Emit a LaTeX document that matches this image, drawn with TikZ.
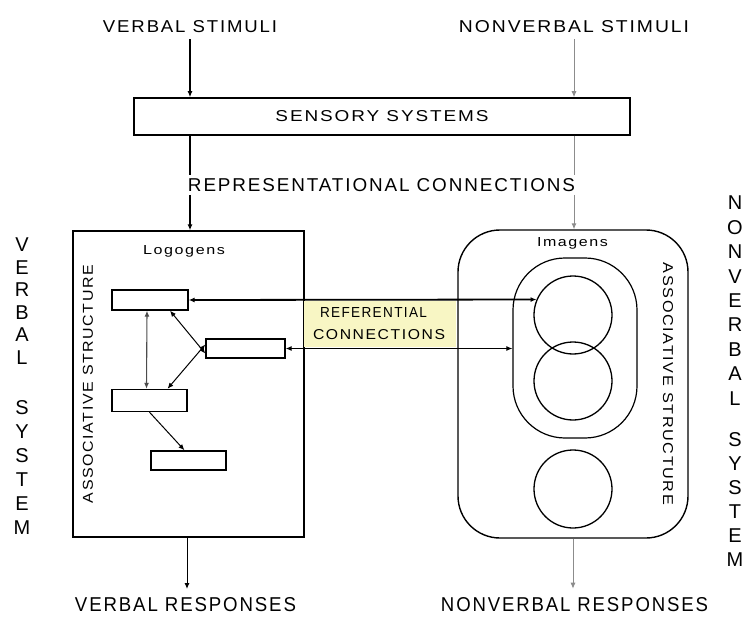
\documentclass[tikz,border=0pt]{standalone}
\usepackage{fontspec}
\setmainfont{Liberation Sans}
\newfontfamily\trk[LetterSpace=10]{Liberation Sans}
\usetikzlibrary{arrows.meta}
\newcommand{\fitt}[3]{\resizebox{#1pt}{#2pt}{\trk #3}}
\definecolor{refyellow}{RGB}{248,246,196}
\begin{document}
\begin{tikzpicture}[x=1pt,y=-1pt,
  lbl/.style={inner sep=0pt, anchor=center},
  ln/.style={line width=1.4pt, draw=black},
  thin/.style={line width=1pt, draw=black},
  faint/.style={line width=0.9pt, draw=black!45},
  arr/.style={-{Latex[length=6pt,width=5pt]}},
  darr/.style={{Latex[length=6pt,width=5pt]}-{Latex[length=6pt,width=5pt]}},
  lexbox/.style={draw=black, line width=1.4pt, inner sep=0pt, fill=white},
  vlet/.style={inner sep=0pt, font=\fontsize{20}{20}\selectfont}]
\useasboundingbox (0,0) rectangle (748,618);

% top labels
\node[lbl] (vs) at (190,27) {\fitt{174}{12}{VERBAL STIMULI}};
\node[lbl] (nvs) at (574,27) {\fitt{230}{12}{NONVERBAL STIMULI}};

% sensory systems
\node[draw=black, line width=1.5pt, minimum width=496pt, minimum height=37pt, inner sep=0pt] (sens) at (382,116.5) {\fitt{213}{11}{SENSORY SYSTEMS}};

\draw[ln, arr, shorten <=6pt] (vs) -- (vs |- sens.north);
\draw[faint, arr, shorten <=6pt] (nvs) -- (nvs |- sens.north);

% representational connections
\node[lbl] (rc) at (381.5,185) {\fitt{387}{13}{REPRESENTATIONAL CONNECTIONS}};

% logogen system
\node[draw=black, line width=1.4pt, minimum width=231pt, minimum height=306pt, inner sep=0pt] (logo) at (188.5,384) {};
\node[lbl] (logt) at (184,251) {\fitt{82}{9}{Logogens}};
\node[lbl, rotate=90] (asl) at (88,384) {\fitt{238}{10}{ASSOCIATIVE STRUCTURE}};

% imagen system
\node[draw=black, line width=1.4pt, rounded corners=42pt, minimum width=230pt, minimum height=308pt, inner sep=0pt] (imag) at (573,384) {};
\node[draw=black, line width=1.2pt, rounded corners=52pt, minimum width=124pt, minimum height=180pt, inner sep=0pt] (inner) at (575,348) {};
\node[circle, draw=black, line width=1.3pt, minimum size=78pt, inner sep=0pt] (c1) at (573,315) {};
\node[circle, draw=black, line width=1.3pt, minimum size=78pt, inner sep=0pt] (c2) at (573,381) {};
\node[circle, draw=black, line width=1.3pt, minimum size=78pt, inner sep=0pt] (c3) at (573,489) {};
\node[lbl] (imt) at (572.5,243) {\fitt{71}{9}{Imagens}};
\node[lbl, rotate=-90] (asr) at (668,384) {\fitt{242}{10}{ASSOCIATIVE STRUCTURE}};

% connections from sensory systems
\draw[ln, shorten >=3pt] (sens.south -| vs) -- (vs |- rc.north);
\draw[ln, arr, shorten <=3pt] (vs |- rc.south) -- (vs |- logo.north);
\draw[faint, shorten >=3pt] (sens.south -| nvs) -- (nvs |- rc.north);
\draw[faint, arr, shorten <=3pt] (nvs |- rc.south) -- (nvs |- imag.north);

% logogen boxes
\node[lexbox, minimum width=76pt, minimum height=20pt] (b1) at (150,300) {};
\node[lexbox, minimum width=79pt, minimum height=19pt] (b2) at (245.5,348.5) {};
\node[lexbox, minimum width=75pt, minimum height=22pt] (b3) at (149.5,400.5) {};
\node[lexbox, minimum width=75pt, minimum height=19pt] (b4) at (188.5,460.5) {};

\draw[faint, line width=1.1pt, draw=black!70, darr] ([xshift=-3pt]b1.south) -- ([xshift=-3pt]b3.north);
\draw[thin, darr] ([xshift=20pt]b1.south) -- ([yshift=-5pt]b2.west);
\draw[thin, darr] ([yshift=4pt]b2.west) -- ([xshift=18pt]b3.north);
\draw[thin, arr] (b3.south) -- ([xshift=-4pt]b4.north);

% referential connections
\node[fill=refyellow, inner sep=0pt, minimum width=152pt, minimum height=46pt] (ref) at (380,323.5) {};
\node[lbl] (ref1) at (373.5,312) {\fitt{107}{10}{REFERENTIAL}};
\node[lbl] (ref2) at (379,335) {\fitt{132}{10}{CONNECTIONS}};
\draw[line width=1.8pt, darr] (b1.east) -- (c1.157);
\draw[thin, darr] (b2.east) -- (b2.east -| inner.west);

% responses
\node[lbl] (vr) at (185.5,605) {\fitt{221}{14}{VERBAL RESPONSES}};
\node[lbl] (nvr) at (574.5,605) {\fitt{267}{14}{NONVERBAL RESPONSES}};
\draw[thin, arr, shorten >=9pt] (logo.south -| 187,0) -- (187,598);
\draw[faint, arr, shorten >=9pt] (imag.south) -- (imag.south |- nvr.north);

% side titles
\foreach \l [count=\i] in {V,E,R,B,A,L}
  \node[vlet] (vl\i) at (22,{245+22.5*(\i-1)}) {\l};
\foreach \l [count=\i] in {S,Y,S,T,E,M}
  \node[vlet] (vm\i) at (22,{408+24*(\i-1)}) {\l};
\foreach \l [count=\i] in {N,O,N,V,E,R,B,A,L}
  \node[vlet] (nl\i) at (735,{203+24.4*(\i-1)}) {\l};
\foreach \l [count=\i] in {S,Y,S,T,E,M}
  \node[vlet] (nm\i) at (735,{440+24*(\i-1)}) {\l};
\end{tikzpicture}
\end{document}
